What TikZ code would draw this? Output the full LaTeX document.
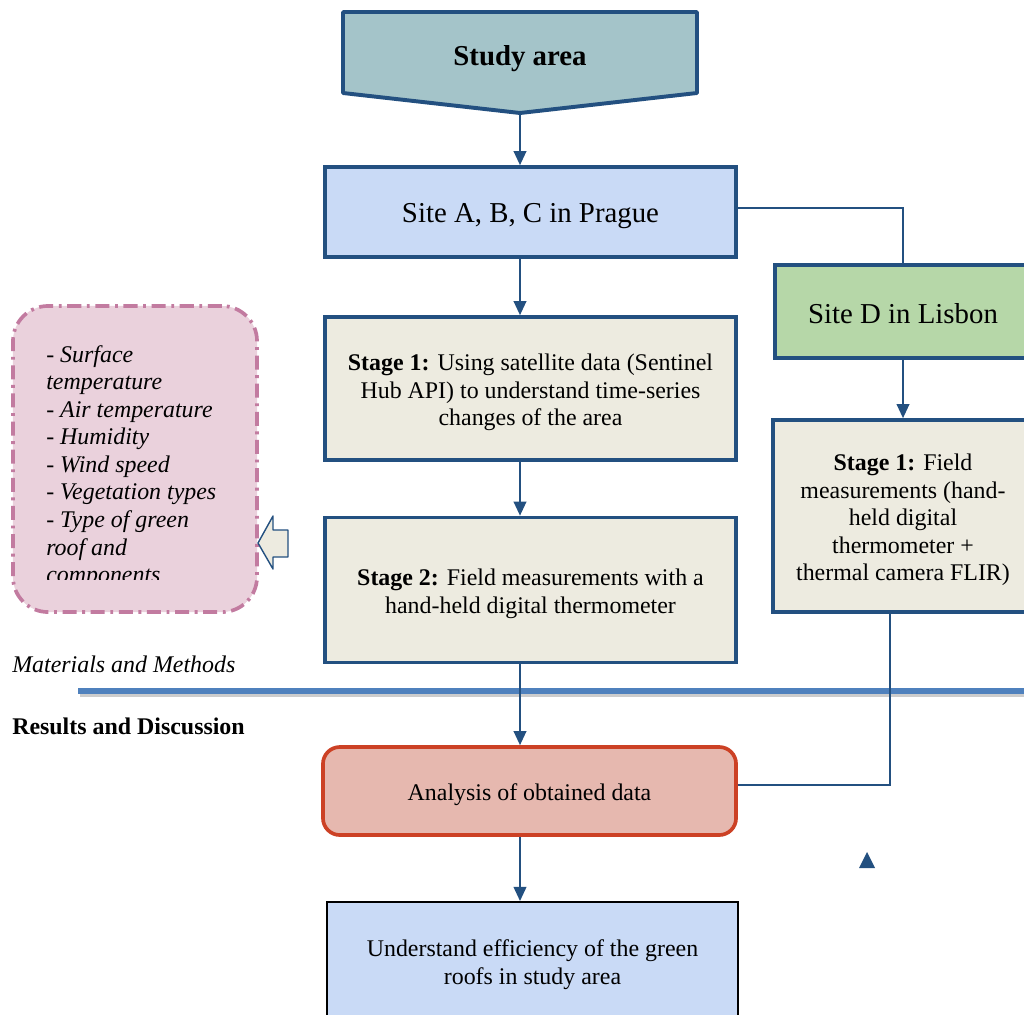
\documentclass[tikz,border=0pt]{standalone}
\usepackage{fontspec}
\setmainfont{Liberation Serif}
\usetikzlibrary{arrows.meta,positioning}
\definecolor{navy}{RGB}{35,80,128}
\definecolor{slate}{RGB}{164,196,201}
\definecolor{skyblue}{RGB}{201,218,246}
\definecolor{leaf}{RGB}{182,215,168}
\definecolor{sand}{RGB}{237,235,224}
\definecolor{blush}{RGB}{234,209,220}
\definecolor{mauve}{RGB}{194,123,160}
\definecolor{rose}{RGB}{230,184,175}
\definecolor{brick}{RGB}{204,65,37}
\definecolor{rule}{RGB}{79,129,189}
\newcommand{\txtsm}{\fontsize{17}{19.6}\selectfont}
\newcommand{\txtlg}{\fontsize{20.5}{24}\selectfont}

\begin{document}
\begin{tikzpicture}[x=0.025cm,y=-0.025cm,>={Triangle[length=10pt,width=9pt]},
  box/.style={draw=navy,line width=2.6pt,inner sep=0pt},
  tx/.style={label={[align=center,font=\txtsm,yshift=-0.1cm]center:#1}},
  txl/.style={label={[align=center,font=\txtlg,yshift=-0.11cm]center:#1}},
  arr/.style={->,draw=navy,line width=1.3pt},
  link/.style={draw=navy,line width=1pt},
  lab/.style={anchor=west,inner sep=0pt}]
  \useasboundingbox (0,0) rectangle (1024,1014);
  % study area banner
  \draw[navy,fill=slate,line width=2.8pt,line join=round]
    (343,12) -- (697,12) -- (697,93) -- (520,113) -- (343,93) -- cycle;
  \node[font=\txtlg\bfseries] (study) at (520,59) {Study area};
  \coordinate (studytip) at (520,113);
  \coordinate (spine) at (520,0);
  \coordinate (dtap) at (890,0);
  % Prague column
  \node[box,fill=skyblue,minimum width=10.275cm,minimum height=2.25cm,
    txl={Site A, B, C in Prague}] (siteA) at (530.5,212) {};
  \node[box,fill=sand,minimum width=10.275cm,minimum height=3.575cm,
    tx={\textbf{Stage 1:} Using satellite data (Sentinel\\Hub API) to understand time-series\\changes of the area}] (stageA1) at (530.5,388.5) {};
  \node[box,fill=sand,minimum width=10.275cm,minimum height=3.625cm,
    tx={\textbf{Stage 2:} Field measurements with a\\hand-held digital thermometer}] (stageA2) at (530.5,590) {};
  % Lisbon column
  \node[box,fill=leaf,minimum width=6.4cm,minimum height=2.325cm,
    label={[font=\txtlg,yshift=-0.05cm]center:Site D in Lisbon}] (siteD) at (903,311.5) {};
  \node[box,fill=sand,minimum width=6.5cm,minimum height=4.8cm,
    tx={\textbf{Stage 1:} Field\\measurements (hand-\\held digital\\thermometer +\\thermal camera FLIR)}] (stageD1) at (903,516) {};
  % results
  \node[box,draw=brick,fill=rose,rounded corners=12pt,minimum width=10.325cm,minimum height=2.2cm,
    tx={Analysis of obtained data}] (analysis) at (529.5,791) {};
  \node[box,draw=black,line width=1.4pt,fill=skyblue,minimum width=10.275cm,minimum height=3cm,
    label={[align=center,font=\txtsm,yshift=-0.06cm]center:Understand efficiency of the green\\roofs in study area}] (result) at (532.5,962) {};
  % parameters box
  \node[draw=mauve,fill=blush,line width=2.6pt,dash pattern=on 10pt off 4pt on 2pt off 4pt,
    rounded corners=25pt,minimum width=6.1cm,minimum height=7.65cm] (params) at (135,459) {};
  \begin{scope}
    \clip (0,300) rectangle (260,579);
    \node[anchor=north west,align=left,inner sep=0pt,font=\txtsm\itshape] (paramtext) at (46,345)
      {- Surface\\temperature\\- Air temperature\\- Humidity\\- Wind speed\\- Vegetation types\\- Type of green\\roof and\\components};
  \end{scope}
  \draw[navy,fill=sand,line width=1pt,line join=round]
    (258,543) -- (273,516) -- (273,530) -- (288,530) -- (288,557) -- (273,557) -- (273,569) -- cycle;
  % section divider
  \node[lab,font=\txtsm\itshape] (mm) at (12,664) {Materials and Methods};
  \node[lab,font=\txtsm\bfseries] (rd) at (12,726) {Results and Discussion};
  \draw[black!20,line width=3.5pt] (80,695) -- (1024,695);
  \draw[rule,line width=3.6pt] (78,691) -- (1024,691);
  % connectors
  \draw[arr] (studytip) -- (siteA.north -| spine);
  \foreach \a/\b in {siteA/stageA1,stageA1/stageA2,stageA2/analysis,analysis/result}
    \draw[arr] (\a.south -| spine) -- (\b.north -| spine);
  \draw[link] ([yshift=0.1cm]siteA.east) -| (siteD.north);
  \draw[arr] (siteD) -- (stageD1);
  \draw[link] (stageD1.south -| dtap) |- ([yshift=0.15cm]analysis.east);
  \fill[navy] (867,852) -- (875,868) -- (859,868) -- cycle;
\end{tikzpicture}
\end{document}
